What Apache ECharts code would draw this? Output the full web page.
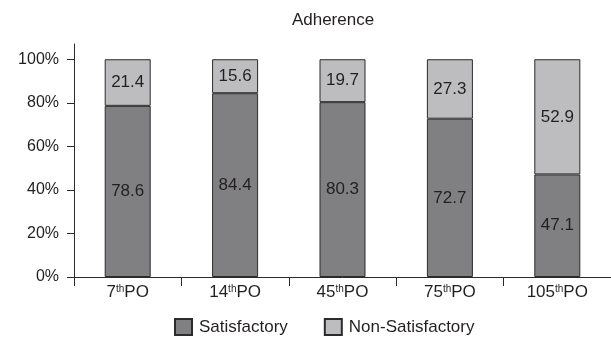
<!DOCTYPE html>
<html>
<head>
<meta charset="utf-8">
<script src="https://cdn.jsdelivr.net/npm/echarts@6/dist/echarts.min.js"></script>
<style>
  html, body { margin: 0; padding: 0; background: #fff; }
  #chart { width: 611px; height: 337px; }
</style>
</head>
<body>
<div id="chart"></div>
<script>
// Post-operative checkpoints (day number + ordinal suffix)
const days = ['7', '14', '45', '75', '105'];
const satisfactory = [78.6, 84.4, 80.3, 72.7, 47.1];
const nonSatisfactory = [21.4, 15.6, 19.7, 27.3, 52.9];
const yTicks = [0, 20, 40, 60, 80, 100];

const FONT = '"Liberation Sans", Arial, sans-serif';
const TEXT = '#231f20';
const EDGE = '#2b2b2b';

const chart = echarts.init(document.getElementById('chart'), null, { renderer: 'canvas' });

const barLabel = {
  show: true,
  position: 'inside',
  color: TEXT,
  fontFamily: FONT,
  fontSize: 17,
  formatter: p => p.value.toFixed(1)
};

chart.setOption({
  animation: false,
  textStyle: { fontFamily: FONT },
  title: {
    text: 'Adherence',
    left: 333,
    textAlign: 'center',
    top: 12,
    padding: 0,
    textStyle: { fontFamily: FONT, fontSize: 17, fontWeight: 'normal', color: TEXT }
  },
  legend: {
    top: 318,
    left: 174,
    padding: 0,
    itemWidth: 17,
    itemHeight: 16,
    itemGap: 36,
    icon: 'rect',
    textStyle: { fontFamily: FONT, fontSize: 17, color: TEXT, padding: [0, 0, 0, 2] },
    data: ['Satisfactory', 'Non-Satisfactory']
  },
  grid: { left: 74, top: 44, width: 549, height: 233, containLabel: false },
  xAxis: {
    type: 'category',
    data: days,
    axisLine: { lineStyle: { color: EDGE, width: 1 } },
    axisTick: { show: true, alignWithLabel: false, length: 9, lineStyle: { color: EDGE } },
    axisLabel: {
      interval: 0,
      margin: 7,
      color: TEXT,
      formatter: d => '{n|' + d + '}{s|th}{n|PO}',
      rich: {
        n: { fontFamily: FONT, fontSize: 17, color: TEXT },
        s: { fontFamily: FONT, fontSize: 10, color: TEXT, verticalAlign: 'top', padding: [0, 0, 7, 0] }
      }
    }
  },
  yAxis: {
    type: 'value',
    min: 0,
    max: 107,
    axisLine: { show: true, lineStyle: { color: EDGE, width: 1 } },
    axisTick: { show: true, length: 7, inside: false, customValues: yTicks, lineStyle: { color: EDGE } },
    axisLabel: {
      customValues: yTicks,
      margin: 15,
      color: TEXT,
      fontFamily: FONT,
      fontSize: 16,
      formatter: '{value}%'
    },
    splitLine: { show: false }
  },
  series: [
    {
      name: 'Satisfactory',
      type: 'bar',
      stack: 'total',
      barWidth: 46,
      data: satisfactory,
      itemStyle: { color: '#808083', borderColor: EDGE, borderWidth: 1 },
      label: barLabel
    },
    {
      name: 'Non-Satisfactory',
      type: 'bar',
      stack: 'total',
      barWidth: 46,
      data: nonSatisfactory,
      itemStyle: { color: '#bdbdc0', borderColor: EDGE, borderWidth: 1 },
      label: barLabel
    }
  ]
});
</script>
</body>
</html>
